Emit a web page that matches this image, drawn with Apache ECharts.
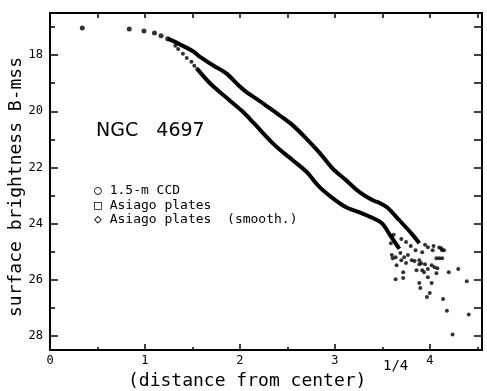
<!DOCTYPE html>
<html>
<head>
<meta charset="utf-8">
<title>NGC 4697</title>
<style>
  html, body { margin: 0; padding: 0; background: #fff; }
  #chart { width: 487px; height: 391px; }
</style>
<script src="https://cdn.jsdelivr.net/npm/echarts@6/dist/echarts.min.js"></script>
</head>
<body>
<div id="chart"></div>
<script>
// tick marks / labels
var xLabels = [0, 1, 2, 3, 4];
var xMinor = [0.5, 1.5, 2.5, 3.5, 4.5];
var xTop = [0, 0.5, 1, 1.5, 2, 2.5, 3, 3.5, 4, 4.5];
var yLabels = [18, 20, 22, 24, 26, 28];
var yMinor = [17, 19, 21, 23, 25, 27];
var yRight = [17, 18, 19, 20, 21, 22, 23, 24, 25, 26, 27, 28];

// inner points, both profiles together
var coreDots = [[0.34, 17.03], [0.835, 17.07], [0.99, 17.14], [1.10, 17.21], [1.17, 17.31], [1.24, 17.42]];

// first separate points of the lower profile
var lowerDots = [[1.32, 17.67], [1.35, 17.78], [1.40, 17.95], [1.44, 18.10], [1.49, 18.24], [1.52, 18.38], [1.55, 18.49]];

// upper profile (dense band)
var upperBand = [[1.24, 17.42], [1.30, 17.50], [1.37, 17.62], [1.51, 17.87], [1.58, 18.06], [1.72, 18.37],
  [1.86, 18.66], [2.00, 19.12], [2.07, 19.32], [2.21, 19.64], [2.35, 19.98], [2.42, 20.15], [2.56, 20.51],
  [2.70, 20.97], [2.84, 21.48], [2.98, 22.05], [3.12, 22.46], [3.26, 22.88], [3.40, 23.17], [3.48, 23.28],
  [3.55, 23.42], [3.68, 23.88], [3.82, 24.40], [3.89, 24.70]];

// lower profile (dense band)
var lowerBand = [[1.55, 18.49], [1.69, 19.02], [1.86, 19.52], [2.02, 19.98], [2.10, 20.25], [2.21, 20.65],
  [2.35, 21.15], [2.45, 21.45], [2.56, 21.75], [2.70, 22.15], [2.84, 22.70], [2.98, 23.10], [3.12, 23.42],
  [3.26, 23.60], [3.40, 23.80], [3.50, 24.00], [3.58, 24.40], [3.68, 24.90]];

// noisy outer points
var outerDots = [[3.64, 25.98], [3.72, 25.94], [3.72, 25.73], [3.65, 25.48], [3.61, 25.23], [3.60, 25.12],
  [3.70, 25.30], [3.77, 25.12], [3.81, 25.30], [3.89, 26.11], [3.90, 26.29], [3.97, 26.61], [4.00, 26.47],
  [4.02, 26.11], [3.94, 25.73], [4.07, 25.77], [4.08, 25.59], [4.13, 25.23], [4.15, 24.95], [4.10, 25.23],
  [4.20, 25.73], [4.30, 25.62], [4.39, 26.05], [4.14, 26.68], [4.18, 27.10], [4.41, 27.24], [4.24, 27.95],
  [3.89, 25.30], [3.92, 25.66], [3.98, 25.91], [4.07, 25.23], [4.13, 24.95], [4.03, 24.95], [3.98, 24.84],
  [3.92, 25.02], [3.86, 25.66], [3.91, 25.41], [4.02, 25.48], [4.12, 24.88], [3.59, 24.70], [3.66, 24.80],
  [3.69, 25.05], [3.64, 25.20], [3.73, 25.20], [3.75, 25.40], [3.84, 25.33], [3.89, 25.45], [3.95, 25.45],
  [3.98, 25.62], [4.05, 25.55], [3.85, 24.95], [3.80, 24.80], [3.75, 24.65], [3.70, 24.55], [3.62, 24.40],
  [4.10, 24.85], [4.04, 24.80], [3.95, 24.75]];

var mono = 'DejaVu Sans Mono';

var myChart = echarts.init(document.getElementById('chart'));
var option = {
  animation: false,
  backgroundColor: '#fff',
  grid: { left: 50, right: 5, top: 13, bottom: 41 },
  xAxis: [
    {
      type: 'value', position: 'bottom', min: 0, max: 4.55,
      axisLine: { lineStyle: { color: '#000', width: 2 } },
      axisTick: { inside: true, length: 6, customValues: xLabels, lineStyle: { color: '#000', width: 1.5 } },
      axisLabel: { customValues: xLabels, color: '#000', fontFamily: mono, fontSize: 12, margin: 5 },
      splitLine: { show: false }
    },
    {
      type: 'value', position: 'bottom', min: 0, max: 4.55,
      axisLine: { show: false },
      axisTick: { inside: true, length: 3, customValues: xMinor, lineStyle: { color: '#000', width: 1.5 } },
      axisLabel: { show: false },
      splitLine: { show: false }
    },
    {
      type: 'value', position: 'top', min: 0, max: 4.55,
      axisLine: { show: true, onZero: false, lineStyle: { color: '#000', width: 2 } },
      axisTick: { inside: true, length: 5, customValues: xTop, lineStyle: { color: '#000', width: 1.5 } },
      axisLabel: { show: false },
      splitLine: { show: false }
    }
  ],
  yAxis: [
    {
      type: 'value', position: 'left', inverse: true, min: 16.5, max: 28.5,
      axisLine: { lineStyle: { color: '#000', width: 2 } },
      axisTick: { inside: true, length: 8, customValues: yLabels, lineStyle: { color: '#000', width: 1.5 } },
      axisLabel: { customValues: yLabels, color: '#000', fontFamily: mono, fontSize: 12, margin: 7 },
      splitLine: { show: false }
    },
    {
      type: 'value', position: 'left', inverse: true, min: 16.5, max: 28.5,
      axisLine: { show: false },
      axisTick: { inside: true, length: 5, customValues: yMinor, lineStyle: { color: '#000', width: 1.5 } },
      axisLabel: { show: false },
      splitLine: { show: false }
    },
    {
      type: 'value', position: 'right', inverse: true, min: 16.5, max: 28.5,
      axisLine: { show: true, onZero: false, lineStyle: { color: '#000', width: 2 } },
      axisTick: { inside: true, length: 8, customValues: yRight, lineStyle: { color: '#000', width: 1.5 } },
      axisLabel: { show: false },
      splitLine: { show: false }
    }
  ],
  graphic: [
    {
      type: 'text', x: 16, y: 187, rotation: Math.PI / 2,
      style: { text: 'surface brightness B-mss', fill: '#000', font: '18px "DejaVu Sans Mono"', align: 'center', verticalAlign: 'middle' }
    },
    { type: 'text', left: 96, top: 122, style: { text: 'NGC   4697', fill: '#000', font: '19px "DejaVu Sans"' } },
    { type: 'text', left: 94, top: 184, style: { text: '○ 1.5-m CCD', fill: '#000', font: '13px "DejaVu Sans Mono"' } },
    { type: 'text', left: 94, top: 199, style: { text: '□ Asiago plates', fill: '#000', font: '13px "DejaVu Sans Mono"' } },
    { type: 'text', left: 94, top: 213, style: { text: '◇ Asiago plates  (smooth.)', fill: '#000', font: '13px "DejaVu Sans Mono"' } },
    { type: 'text', left: 128, top: 372, style: { text: '(distance from center)', fill: '#000', font: '18px "DejaVu Sans Mono"' } },
    { type: 'text', left: 383, top: 359, style: { text: '1/4', fill: '#000', font: '14px "DejaVu Sans Mono"' } }
  ],
  series: [
    { name: 'core', type: 'scatter', data: coreDots, symbolSize: 5, itemStyle: { color: '#000' } },
    { name: 'lower start', type: 'scatter', data: lowerDots, symbolSize: 4, itemStyle: { color: '#000' } },
    {
      name: 'upper', type: 'line', data: upperBand, showSymbol: false, smooth: 0.3,
      lineStyle: { color: '#000', width: 4 }
    },
    {
      name: 'lower', type: 'line', data: lowerBand, showSymbol: false, smooth: 0.3,
      lineStyle: { color: '#000', width: 4 }
    },
    { name: 'outer', type: 'scatter', data: outerDots, symbolSize: 4, itemStyle: { color: '#000' } }
  ]
};
myChart.setOption(option);
</script>
</body>
</html>
